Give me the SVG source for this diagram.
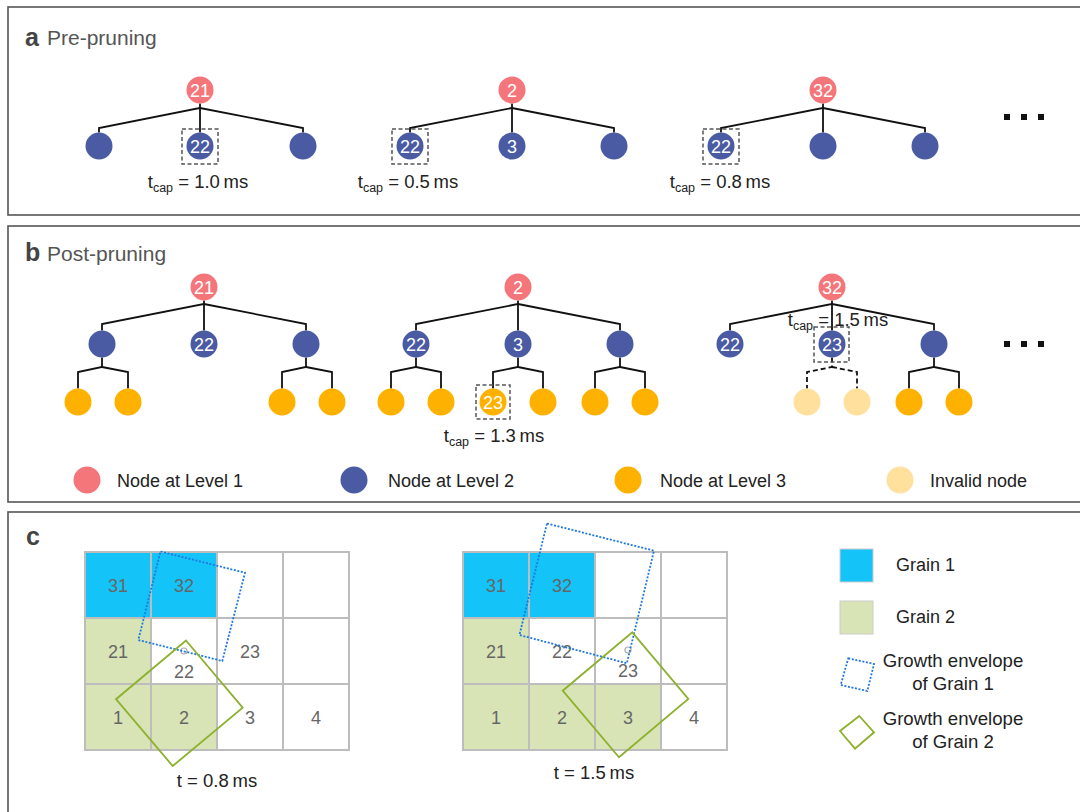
<svg xmlns="http://www.w3.org/2000/svg" width="1080" height="812" viewBox="0 0 1080 812">
<style>
text{font-family:"Liberation Sans",Arial,sans-serif}
.panel{fill:#fff;stroke:#555;stroke-width:1.6}
.lbl{font-weight:bold;font-size:25px;fill:#444}
.ttl{font-size:21px;fill:#555}
.l1{fill:#F4767B}.l2{fill:#4A5BA4}.l3{fill:#FFB100}.inv{fill:#FFE09C}
.nt{font-size:18px;fill:#fff;text-anchor:middle}
.edge{fill:none;stroke:#111;stroke-width:1.8}
.dedge{fill:none;stroke:#111;stroke-width:1.8;stroke-dasharray:5 3}
.sel{fill:none;stroke:#555;stroke-width:1.5;stroke-dasharray:4 2.5}
.cap{font-size:18.5px;fill:#222;text-anchor:middle}
.leg{font-size:18px;fill:#222}
.cell{stroke:#BDBDBD;stroke-width:2}
.g0{fill:#fff}.g1{fill:#14C3F8}.g2{fill:#D8E4B5}
.num{font-size:18px;fill:#666;text-anchor:middle}
.env1{fill:none;stroke:#1E78E0;stroke-width:1.8;stroke-dasharray:2 1.6}
.env2{fill:none;stroke:#8DB02D;stroke-width:1.8}
.mk{fill:none;stroke:#aaa;stroke-width:1.2}
.dot{fill:#111}
.leg2{font-size:18px;fill:#222}
.leg3{font-size:18.6px;fill:#222;text-anchor:middle}
</style>

<!-- Panels -->
<rect class="panel" x="8" y="7" width="1076" height="208"/>
<rect class="panel" x="8" y="226" width="1076" height="276"/>
<rect class="panel" x="8" y="512" width="1076" height="310"/>

<text x="25" y="46" class="lbl">a</text><text x="47" y="45" class="ttl">Pre-pruning</text>
<text x="25" y="261" class="lbl">b</text><text x="47" y="261" class="ttl">Post-pruning</text>
<text x="26" y="545" class="lbl">c</text>

<!-- Connectors -->
<g id="connectors">
  <path class="edge" d="M200,103.5V108L99,128V132.5M200,108L303,128V132.5M200,103.5V132.5"/>
  <path class="edge" d="M512,103.5V108L410,128V132.5M512,108L614,128V132.5M512,103.5V132.5"/>
  <path class="edge" d="M823,103.5V108L721,128V132.5M823,108L925,128V132.5M823,103.5V132.5"/>
  <path class="edge" d="M204,300.5V304L102,324V330.5M204,304L306,324V330.5M204,300.5V330.5"/>
  <path class="edge" d="M102,357.5V367L78,372V388.5M102,367L128,372V388.5"/>
  <path class="edge" d="M306,357.5V367L282,372V388.5M306,367L332,372V388.5"/>
  <path class="edge" d="M518,300.5V304L416,324V330.5M518,304L620,324V330.5M518,300.5V330.5"/>
  <path class="edge" d="M416,357.5V367L391,372V388.5M416,367L441,372V388.5"/>
  <path class="edge" d="M518,357.5V367L493,372V388.5M518,367L543,372V388.5"/>
  <path class="edge" d="M620,357.5V367L595,372V388.5M620,367L645,372V388.5"/>
  <path class="edge" d="M832,300.5V304L730,324V330.5M832,304L934,324V330.5M832,300.5V330.5"/>
  <path class="dedge" d="M832,357.5V367L807,372V388.5M832,367L857,372V388.5"/>
  <path class="edge" d="M934,357.5V367L909,372V388.5M934,367L959,372V388.5"/>
</g>

<!-- Panel a nodes -->
<g id="a-t1-root"><circle class="l1" cx="200" cy="90" r="13.5"/><text class="nt" x="200" y="96.5">21</text></g>
<g id="a-t1-c1"><circle class="l2" cx="99" cy="146" r="13.5"/></g>
<g id="a-t1-c2"><circle class="l2" cx="200" cy="146" r="13.5"/><text class="nt" x="200" y="152.5">22</text><rect class="sel" x="182" y="129" width="36" height="35"/></g>
<g id="a-t1-c3"><circle class="l2" cx="303" cy="146" r="13.5"/></g>
<text class="cap" x="198" y="188">t<tspan font-size="12.5" dy="4">cap</tspan><tspan dy="-4"> = 1.0&#8201;ms</tspan></text>

<g id="a-t2-root"><circle class="l1" cx="512" cy="90" r="13.5"/><text class="nt" x="512" y="96.5">2</text></g>
<g id="a-t2-c1"><circle class="l2" cx="410" cy="146" r="13.5"/><text class="nt" x="410" y="152.5">22</text><rect class="sel" x="392" y="129" width="36" height="35"/></g>
<g id="a-t2-c2"><circle class="l2" cx="512" cy="146" r="13.5"/><text class="nt" x="512" y="152.5">3</text></g>
<g id="a-t2-c3"><circle class="l2" cx="614" cy="146" r="13.5"/></g>
<text class="cap" x="408" y="188">t<tspan font-size="12.5" dy="4">cap</tspan><tspan dy="-4"> = 0.5&#8201;ms</tspan></text>

<g id="a-t3-root"><circle class="l1" cx="823" cy="90" r="13.5"/><text class="nt" x="823" y="96.5">32</text></g>
<g id="a-t3-c1"><circle class="l2" cx="721" cy="146" r="13.5"/><text class="nt" x="721" y="152.5">22</text><rect class="sel" x="703" y="129" width="36" height="35"/></g>
<g id="a-t3-c2"><circle class="l2" cx="823" cy="146" r="13.5"/></g>
<g id="a-t3-c3"><circle class="l2" cx="925" cy="146" r="13.5"/></g>
<text class="cap" x="720" y="188">t<tspan font-size="12.5" dy="4">cap</tspan><tspan dy="-4"> = 0.8&#8201;ms</tspan></text>

<g id="a-dots"><rect class="dot" x="1004" y="114" width="6" height="6"/><rect class="dot" x="1021" y="114" width="6" height="6"/><rect class="dot" x="1038" y="114" width="6" height="6"/></g>

<!-- Panel b nodes -->
<g id="b-t1-root"><circle class="l1" cx="204" cy="287" r="13.5"/><text class="nt" x="204" y="293.5">21</text></g>
<g id="b-t1-a"><circle class="l2" cx="102" cy="344" r="13.5"/></g>
<g id="b-t1-b"><circle class="l2" cx="204" cy="344" r="13.5"/><text class="nt" x="204" y="350.5">22</text></g>
<g id="b-t1-c"><circle class="l2" cx="306" cy="344" r="13.5"/></g>
<g id="b-t1-a1"><circle class="l3" cx="78" cy="402" r="13.5"/></g>
<g id="b-t1-a2"><circle class="l3" cx="128" cy="402" r="13.5"/></g>
<g id="b-t1-c1"><circle class="l3" cx="282" cy="402" r="13.5"/></g>
<g id="b-t1-c2"><circle class="l3" cx="332" cy="402" r="13.5"/></g>

<g id="b-t2-root"><circle class="l1" cx="518" cy="287" r="13.5"/><text class="nt" x="518" y="293.5">2</text></g>
<g id="b-t2-a"><circle class="l2" cx="416" cy="344" r="13.5"/><text class="nt" x="416" y="350.5">22</text></g>
<g id="b-t2-b"><circle class="l2" cx="518" cy="344" r="13.5"/><text class="nt" x="518" y="350.5">3</text></g>
<g id="b-t2-c"><circle class="l2" cx="620" cy="344" r="13.5"/></g>
<g id="b-t2-a1"><circle class="l3" cx="391" cy="402" r="13.5"/></g>
<g id="b-t2-a2"><circle class="l3" cx="441" cy="402" r="13.5"/></g>
<g id="b-t2-b1"><circle class="l3" cx="493" cy="402" r="13.5"/><text class="nt" x="493" y="408.5">23</text><rect class="sel" x="476" y="385" width="34" height="34"/></g>
<g id="b-t2-b2"><circle class="l3" cx="543" cy="402" r="13.5"/></g>
<g id="b-t2-c1"><circle class="l3" cx="595" cy="402" r="13.5"/></g>
<g id="b-t2-c2"><circle class="l3" cx="645" cy="402" r="13.5"/></g>
<text class="cap" x="494" y="442">t<tspan font-size="12.5" dy="4">cap</tspan><tspan dy="-4"> = 1.3&#8201;ms</tspan></text>

<g id="b-t3-root"><circle class="l1" cx="832" cy="287" r="13.5"/><text class="nt" x="832" y="293.5">32</text></g>
<g id="b-t3-a"><circle class="l2" cx="730" cy="344" r="13.5"/><text class="nt" x="730" y="350.5">22</text></g>
<g id="b-t3-b"><circle class="l2" cx="832" cy="344" r="13.5"/><text class="nt" x="832" y="350.5">23</text><rect class="sel" x="814" y="327" width="35" height="35"/></g>
<g id="b-t3-c"><circle class="l2" cx="934" cy="344" r="13.5"/></g>
<g id="b-t3-b1"><circle class="inv" cx="807" cy="402" r="13.5"/></g>
<g id="b-t3-b2"><circle class="inv" cx="857" cy="402" r="13.5"/></g>
<g id="b-t3-c1"><circle class="l3" cx="909" cy="402" r="13.5"/></g>
<g id="b-t3-c2"><circle class="l3" cx="959" cy="402" r="13.5"/></g>
<text class="cap" x="838" y="326">t<tspan font-size="12.5" dy="4">cap</tspan><tspan dy="-4"> = 1.5&#8201;ms</tspan></text>

<g id="b-dots"><rect class="dot" x="1004" y="341" width="6" height="6"/><rect class="dot" x="1021" y="341" width="6" height="6"/><rect class="dot" x="1038" y="341" width="6" height="6"/></g>

<g id="b-legend">
  <circle class="l1" cx="87" cy="480" r="13.5"/><text class="leg" x="117" y="486.5">Node at Level 1</text>
  <circle class="l2" cx="354" cy="480" r="13.5"/><text class="leg" x="388" y="486.5">Node at Level 2</text>
  <circle class="l3" cx="628" cy="480" r="13.5"/><text class="leg" x="660" y="486.5">Node at Level 3</text>
  <circle class="inv" cx="900" cy="480" r="13.5"/><text class="leg" x="930" y="486.5">Invalid node</text>
</g>

<!-- Panel c grid 1 -->
<g id="grid1">
  <rect class="cell g1" x="85" y="552" width="66" height="66"/>
  <rect class="cell g1" x="151" y="552" width="66" height="66"/>
  <rect class="cell g0" x="217" y="552" width="66" height="66"/>
  <rect class="cell g0" x="283" y="552" width="66" height="66"/>
  <rect class="cell g2" x="85" y="618" width="66" height="66"/>
  <rect class="cell g0" x="151" y="618" width="66" height="66"/>
  <rect class="cell g0" x="217" y="618" width="66" height="66"/>
  <rect class="cell g0" x="283" y="618" width="66" height="66"/>
  <rect class="cell g2" x="85" y="684" width="66" height="66"/>
  <rect class="cell g2" x="151" y="684" width="66" height="66"/>
  <rect class="cell g0" x="217" y="684" width="66" height="66"/>
  <rect class="cell g0" x="283" y="684" width="66" height="66"/>
  <text class="num" x="118" y="591.5">31</text>
  <text class="num" x="184" y="591.5">32</text>
  <text class="num" x="118" y="657.5">21</text>
  <text class="num" x="184" y="677.5">22</text>
  <circle class="mk" cx="184" cy="651" r="3"/>
  <text class="num" x="250" y="657.5">23</text>
  <text class="num" x="118" y="723.5">1</text>
  <text class="num" x="184" y="723.5">2</text>
  <text class="num" x="250" y="723.5">3</text>
  <text class="num" x="316" y="723.5">4</text>
  <polygon class="env1" points="160.5,551.5 245,572.7 222.3,661 138.3,640"/>
  <polygon class="env2" points="186,640.5 242.7,707.7 172.7,766 116,699.2"/>
  <text class="cap" x="217" y="787">t = 0.8&#8201;ms</text>
</g>

<!-- Panel c grid 2 -->
<g id="grid2">
  <rect class="cell g1" x="463" y="552" width="66" height="66"/>
  <rect class="cell g1" x="529" y="552" width="66" height="66"/>
  <rect class="cell g0" x="595" y="552" width="66" height="66"/>
  <rect class="cell g0" x="661" y="552" width="66" height="66"/>
  <rect class="cell g2" x="463" y="618" width="66" height="66"/>
  <rect class="cell g0" x="529" y="618" width="66" height="66"/>
  <rect class="cell g0" x="595" y="618" width="66" height="66"/>
  <rect class="cell g0" x="661" y="618" width="66" height="66"/>
  <rect class="cell g2" x="463" y="684" width="66" height="66"/>
  <rect class="cell g2" x="529" y="684" width="66" height="66"/>
  <rect class="cell g2" x="595" y="684" width="66" height="66"/>
  <rect class="cell g0" x="661" y="684" width="66" height="66"/>
  <text class="num" x="496" y="591.5">31</text>
  <text class="num" x="562" y="591.5">32</text>
  <text class="num" x="496" y="657.5">21</text>
  <text class="num" x="562" y="657.5">22</text>
  <text class="num" x="628" y="676.5">23</text>
  <circle class="mk" cx="628" cy="650" r="3"/>
  <text class="num" x="496" y="723.5">1</text>
  <text class="num" x="562" y="723.5">2</text>
  <text class="num" x="628" y="723.5">3</text>
  <text class="num" x="694" y="723.5">4</text>
  <polygon class="env1" points="547,523.5 654,550.7 626.8,663.3 519.4,635"/>
  <polygon class="env2" points="632.3,632.3 688.3,699 619,757.3 562.7,690.7"/>
  <text class="cap" x="594" y="779">t = 1.5&#8201;ms</text>
</g>

<!-- Panel c legend -->
<g id="c-legend">
  <rect class="g1" x="840" y="549" width="33" height="33" stroke="#ccc" stroke-width="1"/>
  <text class="leg2" x="896" y="571">Grain 1</text>
  <rect class="g2" x="840" y="601" width="33" height="33" stroke="#ccc" stroke-width="1"/>
  <text class="leg2" x="896" y="623">Grain 2</text>
  <polygon class="env1" points="848.3,658.3 874,664 867.3,691 840.7,685"/>
  <text class="leg3" x="953" y="667">Growth envelope</text>
  <text class="leg3" x="953" y="690">of Grain 1</text>
  <polygon class="env2" points="859.3,716 874,732.3 855,748.7 840,731"/>
  <text class="leg3" x="953" y="725">Growth envelope</text>
  <text class="leg3" x="953" y="748">of Grain 2</text>
</g>
</svg>
